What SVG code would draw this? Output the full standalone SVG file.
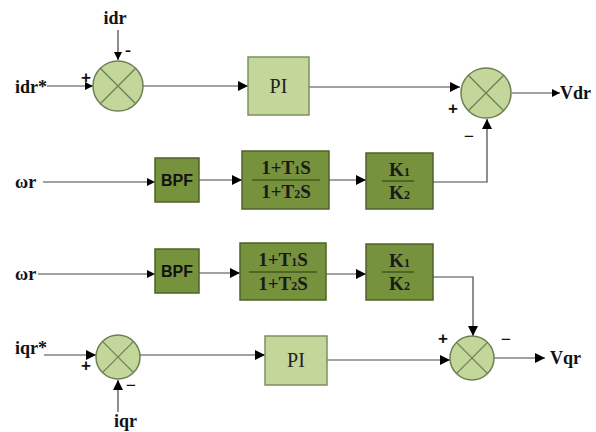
<svg xmlns="http://www.w3.org/2000/svg" width="596" height="432" viewBox="0 0 596 432">
<style>
.lbl{font-family:"Liberation Serif","Times New Roman",serif;font-weight:bold;font-size:18px;fill:#111}
.sg{font-family:"Liberation Sans",Arial,sans-serif;font-weight:bold;font-size:17px;fill:#111}
.pi{fill:#c4d79b;stroke:#7f8f62;stroke-width:1.5}
.dk{fill:#76923c;stroke:#4f6228;stroke-width:1.5}
.sum{fill:#c4d79b;stroke:#6f7f55;stroke-width:1.5}
.x{stroke:#6f7f55;stroke-width:1.3}
.bpf{font-family:"Liberation Sans",Arial,sans-serif;font-weight:bold;font-size:16px;fill:#111}
.tf{font-family:"Liberation Serif","Times New Roman",serif;font-weight:bold;font-size:19px;fill:#1a1a1a}
.sub{font-size:12px}
.ln{stroke:#444;stroke-width:1.2;fill:none}
.pil{font-family:"Liberation Serif","Times New Roman",serif;font-size:20px;fill:#222}
</style>
<defs>
<marker id="ar" viewBox="0 0 10 10" refX="10" refY="5" markerWidth="8" markerHeight="8" markerUnits="userSpaceOnUse" orient="auto"><path d="M0,0 L10,5 L0,10 z" fill="#000"/></marker>
<marker id="arl" viewBox="0 0 10 10" refX="10" refY="5" markerWidth="12" markerHeight="10" markerUnits="userSpaceOnUse" orient="auto"><path d="M0,0 L10,5 L0,10 z" fill="#000"/></marker>
</defs>
<g id="connectors">
<path class="ln" d="M118,30 V60" marker-end="url(#ar)"/>
<path class="ln" d="M47,86 H93" marker-end="url(#ar)"/>
<path class="ln" d="M143,86 H248" marker-end="url(#arl)"/>
<path class="ln" d="M309,87 H460" marker-end="url(#arl)"/>
<path class="ln" d="M512,93 H560" marker-end="url(#ar)"/>
<path class="ln" d="M43,182 H155" marker-end="url(#ar)"/>
<path class="ln" d="M199,180 H242" marker-end="url(#arl)"/>
<path class="ln" d="M329,180 H366" marker-end="url(#arl)"/>
<path class="ln" d="M433,182 H487 V119" marker-end="url(#arl)"/>
<path class="ln" d="M38,274 H155" marker-end="url(#ar)"/>
<path class="ln" d="M199,273 H240" marker-end="url(#arl)"/>
<path class="ln" d="M326,274 H366" marker-end="url(#arl)"/>
<path class="ln" d="M433,277 H473 V336" marker-end="url(#arl)"/>
<path class="ln" d="M44,355 H96" marker-end="url(#arl)"/>
<path class="ln" d="M118,412 V380" marker-end="url(#arl)"/>
<path class="ln" d="M140,355 H265" marker-end="url(#arl)"/>
<path class="ln" d="M327,360 H450" marker-end="url(#arl)"/>
<path class="ln" d="M494,358 H545" marker-end="url(#arl)"/>
</g>
<g id="label-idr"><text class="lbl" x="115" y="24" text-anchor="middle">idr</text></g>
<g id="label-idrstar"><text class="lbl" x="15" y="93">idr*</text></g>
<g id="sum1">
<circle class="sum" cx="118" cy="86" r="25"/>
<line class="x" x1="100.3" y1="68.3" x2="135.7" y2="103.7"/>
<line class="x" x1="135.7" y1="68.3" x2="100.3" y2="103.7"/>
<text class="sg" x="86" y="83" text-anchor="middle" font-size="14">+</text>
<text class="lbl" x="128" y="56" text-anchor="middle" font-size="22">-</text>
</g>
<g id="pi1"><rect class="pi" x="248" y="57" width="61" height="58"/><text class="pil" x="278.5" y="93" text-anchor="middle">PI</text></g>
<g id="sum2">
<circle class="sum" cx="486" cy="93" r="25"/>
<line class="x" x1="468.3" y1="75.3" x2="503.7" y2="110.7"/>
<line class="x" x1="503.7" y1="75.3" x2="468.3" y2="110.7"/>
<text class="sg" x="453" y="114" text-anchor="middle">+</text>
<text class="lbl" x="469" y="142" text-anchor="middle" font-size="20">−</text>
</g>
<g id="label-vdr"><text class="lbl" x="560" y="99">Vdr</text></g>
<g id="label-wr1"><text class="lbl" x="15" y="188">ωr</text></g>
<g id="bpf1"><rect class="dk" x="155" y="158" width="44" height="44"/><text class="bpf" x="177" y="186" text-anchor="middle">BPF</text></g>
<g id="lead1"><rect class="dk" x="242" y="151" width="87" height="58"/>
<text class="tf" x="286" y="174" text-anchor="middle">1+T<tspan class="sub">1</tspan>S</text>
<line x1="252" y1="180" x2="320" y2="180" stroke="#2a3a10" stroke-width="1"/>
<text class="tf" x="286" y="198" text-anchor="middle">1+T<tspan class="sub">2</tspan>S</text></g>
<g id="gain1"><rect class="dk" x="366" y="153" width="67" height="56"/>
<text class="tf" x="399.5" y="176" text-anchor="middle">K<tspan class="sub">1</tspan></text>
<line x1="382" y1="181" x2="414" y2="181" stroke="#2a3a10" stroke-width="1"/>
<text class="tf" x="399.5" y="199" text-anchor="middle">K<tspan class="sub">2</tspan></text></g>
<g id="label-wr2"><text class="lbl" x="15" y="280">ωr</text></g>
<g id="bpf2"><rect class="dk" x="155" y="249" width="44" height="44"/><text class="bpf" x="177" y="277" text-anchor="middle">BPF</text></g>
<g id="lead2"><rect class="dk" x="240" y="243" width="86" height="57"/>
<text class="tf" x="283" y="266" text-anchor="middle">1+T<tspan class="sub">1</tspan>S</text>
<line x1="249" y1="272" x2="317" y2="272" stroke="#2a3a10" stroke-width="1"/>
<text class="tf" x="283" y="290" text-anchor="middle">1+T<tspan class="sub">2</tspan>S</text></g>
<g id="gain2"><rect class="dk" x="366" y="244" width="67" height="56"/>
<text class="tf" x="399.5" y="267" text-anchor="middle">K<tspan class="sub">1</tspan></text>
<line x1="382" y1="272" x2="414" y2="272" stroke="#2a3a10" stroke-width="1"/>
<text class="tf" x="399.5" y="290" text-anchor="middle">K<tspan class="sub">2</tspan></text></g>
<g id="label-iqrstar"><text class="lbl" x="15" y="354">iqr*</text></g>
<g id="sum3">
<circle class="sum" cx="118" cy="357" r="22"/>
<line class="x" x1="102.4" y1="341.4" x2="133.6" y2="372.6"/>
<line class="x" x1="133.6" y1="341.4" x2="102.4" y2="372.6"/>
<text class="sg" x="86" y="371" text-anchor="middle" font-size="22">+</text>
<text class="lbl" x="131" y="391" text-anchor="middle" font-size="20">−</text>
</g>
<g id="label-iqr"><text class="lbl" x="114" y="427">iqr</text></g>
<g id="pi2"><rect class="pi" x="265" y="336" width="62" height="49"/><text class="pil" x="296" y="367" text-anchor="middle">PI</text></g>
<g id="sum4">
<circle class="sum" cx="472" cy="358" r="22"/>
<line class="x" x1="456.4" y1="342.4" x2="487.6" y2="373.6"/>
<line class="x" x1="487.6" y1="342.4" x2="456.4" y2="373.6"/>
<text class="sg" x="443" y="344" text-anchor="middle">+</text>
<text class="lbl" x="506" y="345" text-anchor="middle" font-size="20">−</text>
</g>
<g id="label-vqr"><text class="lbl" x="550" y="364">Vqr</text></g>
</svg>
